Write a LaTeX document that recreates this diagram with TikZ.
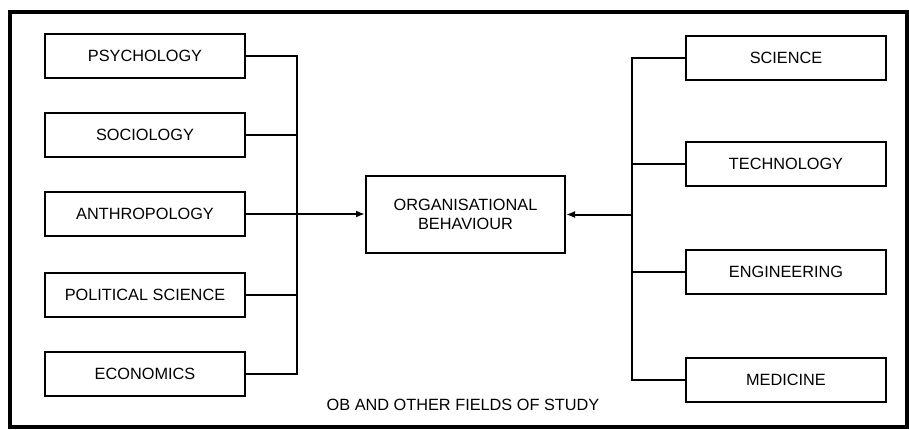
\documentclass[tikz,border=0pt]{standalone}
\usepackage{fontspec}
\setmainfont{Liberation Sans}
\usetikzlibrary{arrows.meta}
\begin{document}
\begin{tikzpicture}[x=1pt, y=-1pt]
      \tikzstyle{field}=[draw, line width=2pt, minimum width=200pt,
        minimum height=44pt, inner sep=0pt, font=\fontsize{16.3}{18.5}\selectfont]
      \tikzstyle{link}=[line width=2pt]
      \useasboundingbox (0,0) rectangle (909,429);

      % outer frame
      \draw[line width=3.5pt] (10,12) rectangle (907,427);

      % left fields
      \node[field] (psy) at (145,55.5) {PSYCHOLOGY};
      \node[field] (soc) at (145,135) {SOCIOLOGY};
      \node[field] (ant) at (145,214) {ANTHROPOLOGY};
      \node[field] (pol) at (145,294.5) {POLITICAL SCIENCE};
      \node[field] (eco) at (145,373.5) {ECONOMICS};

      % centre
      \node[field, minimum width=199pt, minimum height=77pt, align=center]
        (ob) at (465.5,214.5) {ORGANISATIONAL\\BEHAVIOUR};

      % right fields
      \node[field] (sci) at (786,57.5) {SCIENCE};
      \node[field] (tec) at (786,164) {TECHNOLOGY};
      \node[field] (eng) at (786,272) {ENGINEERING};
      \node[field] (med) at (786,379.5) {MEDICINE};

      \coordinate (lb) at (297,0);
      \coordinate (rb) at (632,0);

      % left bus
      \draw[link] (psy.east) -- (psy.east -| lb) -- (eco.east -| lb) -- (eco.east);
      \foreach \n in {soc,pol}
        \draw[link] (\n.east) -- (\n.east -| lb);
      \draw[link, -{Latex[length=9pt,width=7pt]}] (ant.east) -- (ant.east -| ob.west);

      % right bus
      \draw[link] (sci.west) -- (sci.west -| rb) -- (med.west -| rb) -- (med.west);
      \foreach \n in {tec,eng}
        \draw[link] (\n.west) -- (\n.west -| rb);
      \draw[link, -{Latex[length=9pt,width=7pt]}] (rb |- ob.east) -- (ob.east);

      % caption
      \node[font=\fontsize{16.3}{18.5}\selectfont] (cap) at (463,405)
        {OB AND OTHER FIELDS OF STUDY};
\end{tikzpicture}
\end{document}
